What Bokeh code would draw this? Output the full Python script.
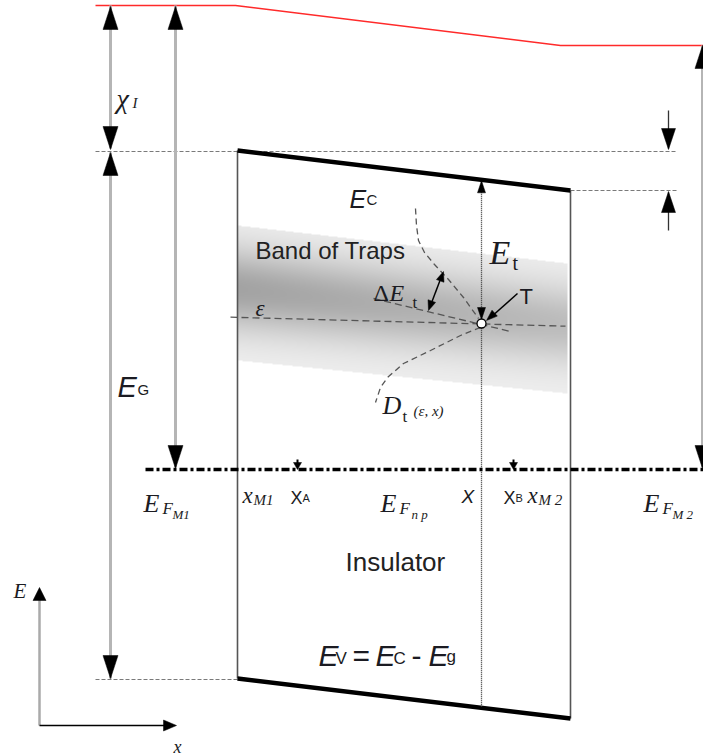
import numpy as np
from bokeh.plotting import figure
from bokeh.models import Range1d, Label
from bokeh.embed import file_html
from bokeh.resources import INLINE

# ---------------- diagram values (image pixel coordinates) ----------------
vacuum_x = [95, 235, 560, 703]          # vacuum level (red)
vacuum_y = [5, 5, 45, 45]
box_x = [237, 570]                      # insulator edges x_M1, x_M2
ec_y = [150, 190]                       # conduction band edge E_C at x_M1, x_M2
ev_y = [678, 718]                       # valence band edge E_V
fermi_y = 469                           # Fermi level
fermi_x = [145, 703]
x_trap = 481                            # position x of trap T
trap_y = 323                            # trap energy
eps_x = [230, 565]                      # epsilon level line
eps_y = [316.7, 325.7]
tilt_x = [373, 510]                     # tilted level line
tilt_y = [298, 331]
dt_up_x = [415, 416, 418, 424, 434, 448, 463, 478]
dt_up_y = [208, 225, 240, 252, 264, 279, 297, 318]
dt_lo_x = [480, 460, 430, 403, 387, 380, 375]
dt_lo_y = [327, 335, 350, 363, 377, 387, 402]
band_top = [225, 263]                   # band of traps edges at x=237 / x=567
band_bot = [360, 393]
mark_x = [297, 513]                     # x_A, x_B

TXT = "#1b1b22"
SERIF = "Liberation Serif"
SANS = "Liberation Sans"

p = figure(width=703, height=756, output_backend="svg", toolbar_location=None,
           x_range=Range1d(0, 703), y_range=Range1d(-756, 0),
           x_axis_location=None, y_axis_location=None, min_border=0)
p.grid.visible = False
p.outline_line_color = None
p.background_fill_color = "white"
p.border_fill_color = "white"

def Y(v):
    return [-a for a in v] if isinstance(v, (list, tuple)) else -v

# ---------------- band of traps (gradient) ----------------
x0, x1 = 236, 569
y0, y1 = 222, 397
Wd, Ht = x1 - x0, y1 - y0
img = np.zeros((Ht, Wd), dtype=np.uint32)
view = img.view(dtype=np.uint8).reshape((Ht, Wd, 4))
cols = x0 + np.arange(Wd) + 0.5
rows = y1 - (np.arange(Ht) + 0.5)
PX, PY = np.meshgrid(cols, rows)
fr = (PX - 237) / (567 - 237)
top = band_top[0] + fr * (band_top[1] - band_top[0])
bot = band_bot[0] + fr * (band_bot[1] - band_bot[0])
t = (PY - top) / (bot - top)
inside = (t >= 0) & (t <= 1) & (PX >= 237) & (PX <= 567)
A = 0.30 - 0.10 * fr
d = 0.06 + A * np.exp(-((t - 0.47) / 0.30) ** 2)
g = np.clip(255 * (1 - d), 0, 255).astype(np.uint8)
view[..., 0] = g
view[..., 1] = g
view[..., 2] = g
view[..., 3] = np.where(inside, 255, 0).astype(np.uint8)
p.image_rgba(image=[img], x=x0, y=-y1, dw=Wd, dh=Ht)

# ---------------- lines ----------------
p.line(vacuum_x, Y(vacuum_y), line_color="#ff2a2a", line_width=1.6)

# dashed reference lines
p.line([95, 677], Y([ec_y[0] + 1, ec_y[0] + 1]), line_color="#7a7a7a", line_dash="4 2", line_width=1)
p.line([box_x[1], 677], Y([ec_y[1], ec_y[1]]), line_color="#7a7a7a", line_dash="4 2", line_width=1)
p.line([95, box_x[0]], Y([ev_y[0] + 1, ev_y[0] + 1]), line_color="#7a7a7a", line_dash="4 2", line_width=1)

# insulator box
p.line([box_x[0], box_x[0]], Y([ec_y[0], ev_y[0]]), line_color="#555555", line_width=1.6)
p.line([box_x[1], box_x[1]], Y([ec_y[1], ev_y[1]]), line_color="#555555", line_width=1.6)
p.line(box_x, Y(ec_y), line_color="black", line_width=4.5)
p.line(box_x, Y(ev_y), line_color="black", line_width=4.5)

# levels inside band
p.line(eps_x, Y(eps_y), line_color="#555555", line_dash="7 4", line_width=1.3)
p.line(tilt_x, Y(tilt_y), line_color="#555555", line_dash="7 4", line_width=1.3)
p.line(dt_up_x, Y(dt_up_y), line_color="#555555", line_dash="6 4", line_width=1.3)
p.line(dt_lo_x, Y(dt_lo_y), line_color="#555555", line_dash="6 4", line_width=1.3)

# vertical dotted line at x
ec_at_x = ec_y[0] + (x_trap - box_x[0]) * (ec_y[1] - ec_y[0]) / (box_x[1] - box_x[0])
ev_at_x = ev_y[0] + (x_trap - box_x[0]) * (ev_y[1] - ev_y[0]) / (box_x[1] - box_x[0])
p.line([x_trap, x_trap], Y([ec_at_x + 2, ev_at_x]), line_color="#333333", line_dash="1 1", line_width=1.3)

# Fermi level
p.line(fermi_x, Y([fermi_y, fermi_y]), line_color="black", line_width=3.5, line_dash="8 3 3 3")

# gray energy arrows (shafts)
GRAY = "#b5b5b5"
p.line([110, 110], Y([vacuum_y[0], ec_y[0] - 2]), line_color=GRAY, line_width=3)
p.line([110, 110], Y([ec_y[0] + 2, ev_y[0]]), line_color=GRAY, line_width=3)
p.line([175, 175], Y([vacuum_y[0], fermi_y - 2]), line_color=GRAY, line_width=3)
p.line([702, 702], Y([vacuum_y[3], fermi_y - 2]), line_color=GRAY, line_width=3)

# small right arrows (band offset)
p.line([668, 668], Y([110, 148]), line_color="#333333", line_width=1.3)
p.line([668, 668], Y([192, 230]), line_color="#333333", line_width=1.3)

# E-x axes
p.line([39, 39], Y([598, 725]), line_color="#aaaaaa", line_width=2.5)
p.line([39, 165], Y([725, 725]), line_color="black", line_width=1.5)

# small marks x_A, x_B
for mx in mark_x:
    p.line([mx, mx], Y([459, 466]), line_color="black", line_width=2)

# Delta E_t and T arrows
p.line([441, 430], Y([276, 305]), line_color="black", line_width=1.5)
p.line([517, 490], Y([293, 317]), line_color="black", line_width=1.5)

# ---------------- arrow heads ----------------
heads = []
def tri(tx, ty, ux, uy, L, W):
    n = (ux ** 2 + uy ** 2) ** 0.5
    ux, uy = ux / n, uy / n
    bx, by = tx - ux * L, ty - uy * L
    qx, qy = -uy, ux
    heads.append(([tx, bx + qx * W / 2, bx - qx * W / 2],
                  [ty, by + qy * W / 2, by - qy * W / 2]))

tri(110, vacuum_y[0] + 1, 0, -1, 23, 15)
tri(110, ec_y[0] - 1, 0, 1, 23, 15)
tri(110, ec_y[0] + 2, 0, -1, 23, 15)
tri(110, ev_y[0], 0, 1, 23, 15)
tri(175, vacuum_y[0] + 1, 0, -1, 23, 15)
tri(175, fermi_y - 1, 0, 1, 23, 15)
tri(702, vacuum_y[3], 0, -1, 23, 15)
tri(702, fermi_y - 1, 0, 1, 23, 15)
tri(668, ec_y[0] - 1, 0, 1, 21, 14)
tri(668, ec_y[1] + 1, 0, -1, 21, 14)
tri(39, 587, 0, -1, 13, 13)
tri(176, 725, 1, 0, 13, 11)
tri(x_trap, ec_at_x + 1, 0, -1, 12, 8)
tri(x_trap, trap_y - 4, 0, 1, 12, 8)
tri(443, 271, 0.35, -1, 10, 8)
tri(428, 310, -0.35, 1, 10, 8)
tri(486, 320, -1, 0.9, 11, 8)
for mx in mark_x:
    tri(mx, fermi_y, 0, 1, 7, 8)

p.patches([h[0] for h in heads], [Y(h[1]) for h in heads],
          fill_color="black", line_color="black", line_width=0.5)

# trap T
p.scatter([x_trap], [Y(trap_y)], size=9, fill_color="white", line_color="black", line_width=1.3)

# ---------------- texts ----------------
def lab(x, y, s, size, font=SERIF, style="italic", color=TXT):
    p.add_layout(Label(x=x, y=Y(y), text=s, text_font_size=f"{size}px", text_font=font,
                       text_font_style=style, text_color=color,
                       text_baseline="alphabetic", text_align="left"))

# chi_I
lab(116, 98, "χ", 28)
lab(132, 102, "I", 15)
# E_C
lab(349, 198, "E", 25, SANS)
lab(366, 199, "C", 15, SANS, "normal")
# Band of Traps
lab(255, 250, "Band of Traps", 24, SANS, "normal", "#222222")
# E_t
lab(489, 252, "E", 34)
lab(512, 262, "t", 20, SERIF, "normal")
# Delta E_t
lab(373, 292, "Δ", 24, SERIF, "normal")
lab(389, 292, "E", 24)
lab(412, 302, "t", 17, SERIF, "normal")
# T
lab(519, 296, "T", 22, SANS, "normal")
# epsilon
lab(255, 308, "ε", 23)
# D_t(eps, x)
lab(382, 405, "D", 26)
lab(402, 416, "t", 17, SERIF, "normal")
lab(413, 410, "(ε, x)", 15)
# E_G
lab(117, 386, "E", 29, SANS)
lab(137, 389, "G", 15, SANS, "normal")
# Fermi row labels
lab(143, 503, "E", 26)
lab(162, 508, "F", 17)
lab(172, 514, "M1", 13)
lab(242, 495, "x", 23)
lab(253, 499, "M1", 15)
lab(290, 497, "X", 18, SANS, "normal")
lab(302, 497, "A", 11, SANS, "normal")
lab(380, 503, "E", 26)
lab(399, 508, "F", 17)
lab(411, 514, "n  p", 13)
lab(461, 496, "X", 19, SANS)
lab(503, 497, "X", 18, SANS, "normal")
lab(515, 497, "B", 11, SANS, "normal")
lab(527, 495, "x", 23)
lab(538, 499, "M 2", 15)
lab(643, 503, "E", 26)
lab(662, 508, "F", 17)
lab(672, 514, "M 2", 13)
# Insulator
lab(345, 561, "Insulator", 26, SANS, "normal", "#222222")
# E_V = E_C - E_g
lab(318, 655, "E", 30, SANS)
lab(335, 658, "V", 17, SANS, "normal")
lab(352, 655, "=", 30, SANS, "normal")
lab(375, 655, "E", 30, SANS)
lab(393, 658, "C", 17, SANS, "normal")
lab(411, 655, "-", 30, SANS, "normal")
lab(428, 655, "E", 30, SANS)
lab(446, 656, "g", 17, SANS, "normal")
# E-x axes labels
lab(13, 590, "E", 21)
lab(173, 746, "x", 18)

open("out.html", "w").write(file_html(p, INLINE))
